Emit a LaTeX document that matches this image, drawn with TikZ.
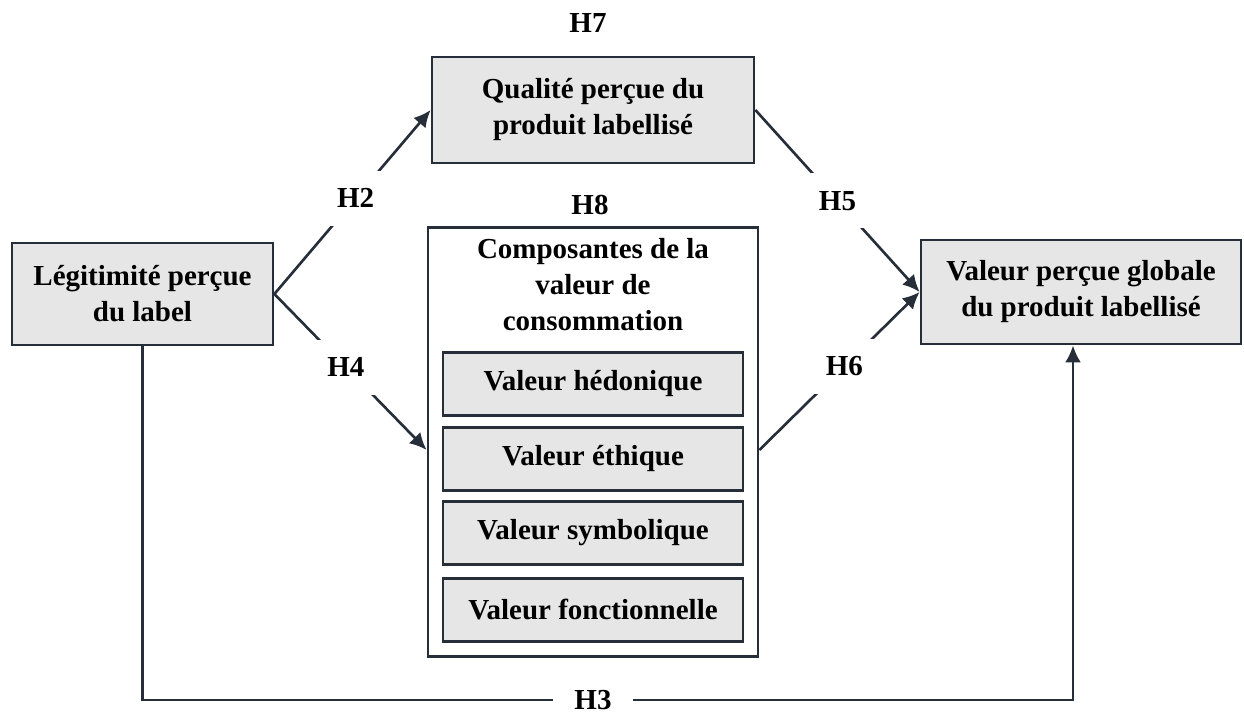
\documentclass[tikz,border=0pt]{standalone}
\usepackage{fontspec}
\setmainfont{Liberation Serif}
\usepackage{tikz}
\usetikzlibrary{arrows.meta,calc}
\definecolor{lignes}{RGB}{38,46,58}
\definecolor{fond}{RGB}{230,230,230}

\begin{document}
\begin{tikzpicture}[x=0.02cm,y=-0.02cm,
    boite/.style={draw=lignes, line width=1.6pt, fill=fond, align=center, inner sep=0pt,
        font=\fontsize{16.5}{20.5}\selectfont\bfseries},
    hyp/.style={fill=white, inner sep=0pt, minimum width=1.6cm, minimum height=1.1cm,
        font=\fontsize{16.5}{20.5}\selectfont\bfseries},
    hyptxt/.style={inner sep=0pt, font=\fontsize{16.5}{20.5}\selectfont\bfseries},
    fleche/.style={draw=lignes, line width=1.5pt, -{Latex[length=3.4mm,width=3.2mm]}}]
                \useasboundingbox (0,0) rectangle (1244,715);
                % blocs principaux
                \node[boite, minimum width=5.22cm, minimum height=2.04cm] (leg) at (142.5,294) {Légitimité perçue\\du label};
                \node[boite, minimum width=6.44cm, minimum height=2.12cm] (qual) at (593,110) {Qualité perçue du\\produit labellisé};
                \node[boite, minimum width=6.4cm, minimum height=2.08cm] (glob) at (1081,292) {Valeur perçue globale\\du produit labellisé};
                \node[boite, fill=white, minimum width=6.6cm, minimum height=8.58cm] (comp) at (593,442) {};
                \node[hyptxt, align=center] (comptitre) at (593,285) {Composantes de la\\valeur de\\consommation};
                \node[boite, minimum width=6cm, minimum height=1.26cm] (hed) at (593,384) {Valeur hédonique};
                \node[boite, minimum width=6cm, minimum height=1.26cm] (eth) at (593,459) {Valeur éthique};
                \node[boite, minimum width=6cm, minimum height=1.26cm] (sym) at (593,533) {Valeur symbolique};
                \node[boite, minimum width=6cm, minimum height=1.26cm] (fonc) at (593,610) {Valeur fonctionnelle};
                % hypotheses
                \node[hyptxt] (h7) at (588,23) {H7};
                \node[hyptxt] (h8) at (590,205) {H8};
                \draw[fleche] (leg.east) -- node[hyp, pos=0.52] (h2) {H2} (qual.west);
                \draw[fleche] (leg.east) -- node[hyp, pos=0.47] (h4) {H4} ($(comp.west)+(0,8)$);
                \draw[fleche] (qual.east) -- node[hyp, pos=0.5] (h5) {H5} (glob.west);
                \draw[fleche] ($(comp.east)+(0,8)$) -- node[hyp, pos=0.53] (h6) {H6} (glob.west);
                \coordinate (h3pt) at (593,700);
                \draw[fleche] (leg.south) |- (h3pt) -| ($(glob.south)+(-8,0)$);
                \node[hyp] (h3) at (593,700) {H3};
            \end{tikzpicture}
\end{document}
